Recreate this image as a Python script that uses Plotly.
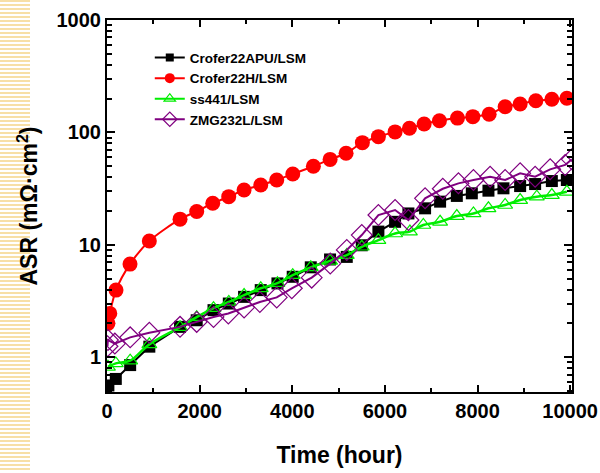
import plotly.graph_objects as go

# ---------------- data ----------------
apu_x = [30, 190, 500, 914, 1577, 1937, 2300, 2630, 2960, 3320, 3680, 4010, 4400, 4816, 5177,
         5501, 5860, 6220, 6508, 6868, 7192, 7553, 7877, 8236, 8560, 8920, 9244, 9605, 9929]
apu_y = [0.56, 0.64, 0.85, 1.24, 1.86, 2.13, 2.62, 3.0, 3.44, 3.95, 4.53, 5.19, 6.3, 7.4, 7.8,
         9.9, 13.1, 16.0, 19.0, 21.1, 24.2, 27.2, 28.7, 30.3, 31.8, 33.3, 34.7, 36.9, 37.7]

h_x = [20, 60, 194, 497, 914, 1577, 1937, 2283, 2628, 2959, 3320, 3665, 4011, 4456, 4817, 5162,
       5514, 5860, 6220, 6530, 6847, 7178, 7567, 7899, 8251, 8596, 8920, 9259, 9605, 9929]
h_y = [2.0, 2.45, 3.95, 6.73, 10.8, 16.9, 19.8, 23.4, 26.8, 30.7, 34.0, 37.7, 42.6, 50.0, 57.5, 65.2,
       81, 91.6, 101, 108.7, 118.8, 127, 134, 138, 145, 169, 179, 191, 197, 201]

ss_x = [20, 190, 500, 914, 1577, 1937, 2300, 2630, 2960, 3320, 3680, 4010, 4400, 4816, 5177,
        5501, 5860, 6220, 6540, 6830, 7192, 7553, 7912, 8236, 8596, 8920, 9280, 9605, 9929]
ss_y = [0.82, 0.88, 0.93, 1.3, 1.85, 2.27, 2.73, 3.1, 3.57, 4.1, 4.55, 5.36, 6.3, 7.2, 8.1,
        9.6, 11.0, 12.6, 13.1, 15.0, 16.0, 18.0, 19.0, 21.1, 22.6, 25.0, 26.8, 27.7, 29.6]

zmg_x = [10, 20, 170, 500, 914, 1577, 1937, 2300, 2620, 2960, 3300, 3665, 3990, 4420, 4820, 5177,
         5501, 5860, 6220, 6508, 6868, 7250, 7588, 7912, 8272, 8596, 8920, 9244, 9568, 9892, 10037]
zmg_y = [1.25, 1.42, 1.32, 1.5, 1.65, 1.86, 2.06, 2.28, 2.45, 2.77, 3.1, 3.4, 4.1, 5.1, 6.8, 9.0,
         12.2, 18.4, 20.4, 16.6, 25.9, 31.5, 35.2, 37.7, 40.3, 37.7, 43.2, 40.3, 46.9, 51.3, 57.6]

series_names = ["Crofer22APU/LSM", "Crofer22H/LSM", "ss441/LSM", "ZMG232L/LSM"]

x_ticks = [0, 2000, 4000, 6000, 8000, 10000]
x_ticktext = ["0", "2000", "4000", "6000", "8000", "10000"]
y_ticks = [1, 10, 100, 1000]
y_ticktext = ["1", "10", "100", "1000"]

FONT = "Arial, Liberation Sans, sans-serif"

styles = [
    dict(line=dict(color="black", width=2),
         marker=dict(symbol="square", size=12, color="black"),
         lmarker=dict(symbol="square", size=8, color="black")),
    dict(line=dict(color="#ff0000", width=2, shape="spline", smoothing=0.8),
         marker=dict(symbol="circle", size=15, color="#ff0000"),
         lmarker=dict(symbol="circle", size=10, color="#ff0000")),
    dict(line=dict(color="#00ee00", width=2.5, shape="spline", smoothing=1),
         marker=dict(symbol="triangle-up-open", size=13, color="#00ee00",
                     line=dict(width=1.2, color="#00ee00")),
         lmarker=dict(symbol="triangle-up-open", size=10, color="#00ee00",
                      line=dict(width=1.2, color="#00ee00"))),
    dict(line=dict(color="#800080", width=2),
         marker=dict(symbol="diamond-open", size=16, color="#800080",
                     line=dict(width=1.2, color="#800080")),
         lmarker=dict(symbol="diamond-open", size=11, color="#800080",
                      line=dict(width=1.2, color="#800080"))),
]
xs = [apu_x, h_x, ss_x, zmg_x]
ys = [apu_y, h_y, ss_y, zmg_y]

fig = go.Figure()
for name, x, y, st in zip(series_names, xs, ys, styles):
    fig.add_trace(go.Scatter(x=x, y=y, name=name, mode="lines+markers",
                             line=st["line"], marker=st["marker"], showlegend=False))
for name, st in zip(series_names, styles):
    lline = dict(color=st["line"]["color"], width=2)
    fig.add_trace(go.Scatter(x=[None], y=[None], name=name, mode="lines+markers",
                             line=lline, marker=st["lmarker"], showlegend=True))

# decorative striped band on the left
shapes = []
yy = 1
while yy < 473:
    shapes.append(dict(type="line", xref="paper", yref="paper",
                       x0=-107/465, x1=(30-107)/465,
                       y0=(392-yy)/372, y1=(392-yy)/372,
                       line=dict(color="#f7dfa6", width=2), layer="below"))
    yy += 4
fig.update_layout(shapes=shapes)

fig.update_layout(
    width=600, height=473,
    margin=dict(l=107, r=28, t=20, b=81, autoexpand=False),
    paper_bgcolor="white", plot_bgcolor="white",
    font=dict(family=FONT, color="black"),
    showlegend=True,
    legend=dict(x=0.092, y=0.94, xanchor="left", yanchor="top",
                bgcolor="rgba(0,0,0,0)", font=dict(size=13.5, family=FONT, weight="bold"),
                itemwidth=30, tracegroupgap=0),
    xaxis=dict(range=[0, 10040], tickvals=x_ticks, ticktext=x_ticktext, automargin=False,
               ticks="inside", ticklen=7, tickwidth=2, tickcolor="black",
               minor=dict(ticks="inside", ticklen=4, tickwidth=2, dtick=1000, tickcolor="black"),
               showline=True, linewidth=2, linecolor="black", mirror="ticks",
               showgrid=False, zeroline=False,
               tickfont=dict(size=20, family=FONT, weight="bold"),
               title=dict(text="Time (hour)", font=dict(size=23, family=FONT, weight="bold"),
                          standoff=26)),
    yaxis=dict(type="log", range=[-0.31, 3.0], tickvals=y_ticks, ticktext=y_ticktext, automargin=False,
               ticks="inside", ticklen=8, tickwidth=2, tickcolor="black",
               minor=dict(ticks="inside", ticklen=5, tickwidth=2, dtick="D1", tickcolor="black"),
               showline=True, linewidth=2, linecolor="black", mirror="ticks",
               showgrid=False, zeroline=False,
               tickfont=dict(size=20, family=FONT, weight="bold"),
               title=dict(text="ASR (mΩ·cm<sup>2</sup>)", font=dict(size=23, family=FONT, weight="bold"),
                          standoff=12)),
)

fig.write_html("out.html", config={"displayModeBar": False},
               post_script="document.body.style.margin='0';")
